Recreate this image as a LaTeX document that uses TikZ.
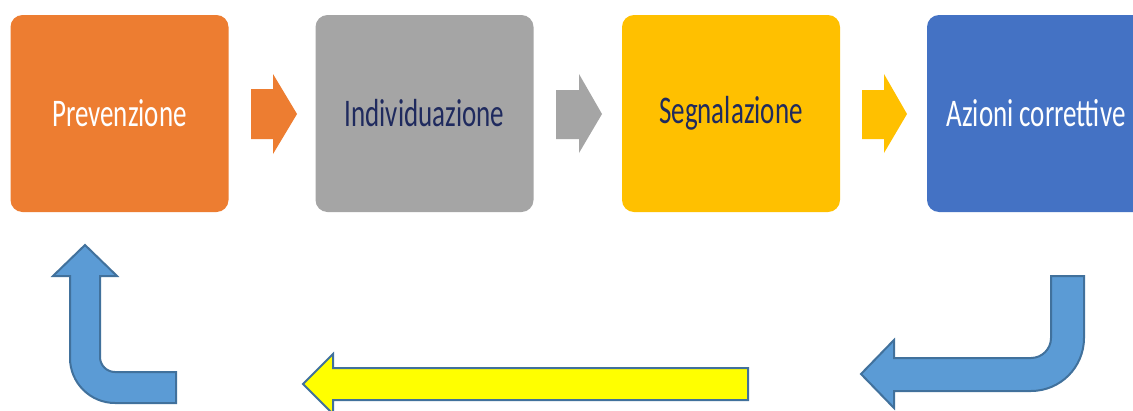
\documentclass[tikz,border=0pt]{standalone}
\usepackage{fontspec}
\setmainfont{Carlito}
\usetikzlibrary{calc}
\definecolor{cOrange}{HTML}{ED7D31}
\definecolor{cGray}{HTML}{A5A5A5}
\definecolor{cGold}{HTML}{FFC000}
\definecolor{cBlue}{HTML}{4472C4}
\definecolor{cNavy}{HTML}{1F2A5E}
\definecolor{cSky}{HTML}{5B9BD5}
\definecolor{cEdge}{HTML}{41719C}
\definecolor{cYellow}{HTML}{FFFF00}
\newcommand{\steptext}[1]{\scalebox{1}[1.45]{\fontsize{27}{31}\selectfont #1}}
\tikzset{
  stepbox/.style={rounded corners=12pt, minimum width=218pt, minimum height=197pt,
    inner sep=0pt, draw=none, font=\normalsize},
  bentarrow/.style={fill=cSky, draw=cEdge, line width=2pt, line join=miter},
}
\begin{document}
\begin{tikzpicture}[x=1pt, y=-1pt]
  \clip (0,0) rectangle (1133,410);
  \fill[white] (0,0) rectangle (1133,410);

  % process steps
  \node[stepbox, fill=cOrange, text=white] (p) at (119.5,113.5) {\steptext{Prevenzione}};
  \node[stepbox, fill=cGray, text=cNavy] (i) at (424.5,113.5) {\steptext{Individuazione}};
  \node[stepbox, fill=cGold, text=cNavy] (s) at (731,113.5) {\steptext{Segnalazione}};
  \node[stepbox, fill=cBlue, text=white] (a) at (1036,113.5) {\steptext{Azioni correttive}};

  % block arrows between the steps
  \fill[cOrange] (251,89) -- (273,89) -- (273,74) -- (297,114) -- (273,154) -- (273,139) -- (251,139) -- cycle;
  \fill[cGray] (556,90) -- (579,90) -- (579,74) -- (602,114) -- (579,153) -- (579,139) -- (556,139) -- cycle;
  \fill[cGold] (862,90) -- (884,90) -- (884,74) -- (907,114) -- (884,153) -- (884,139) -- (862,139) -- cycle;

  % return path: down from the last step, back left, up to the first
  \draw[bentarrow] (1051,276) -- (1084,276) -- (1084,338)
    .. controls (1084,367.3) and (1060.3,391) .. (1031,391)
    -- (894,391) -- (894,408) -- (861,374) -- (894,340) -- (894,358) -- (1031,358)
    .. controls (1042,358) and (1051,349) .. (1051,338) -- cycle;

  \draw[fill=cYellow, draw=cEdge, line width=2pt, line join=miter]
    (748,368) -- (333,368) -- (333,354) -- (303,384) -- (333,414) -- (333,400) -- (748,400) -- cycle;

  \draw[bentarrow] (85,245) -- (117,276) -- (100,276) -- (100,357)
    .. controls (100,365.3) and (106.7,372) .. (115,372)
    -- (176,372) -- (176,403) -- (115,403)
    .. controls (90.2,403) and (70,382.8) .. (70,358)
    -- (70,276) -- (53,276) -- cycle;
\end{tikzpicture}
\end{document}
